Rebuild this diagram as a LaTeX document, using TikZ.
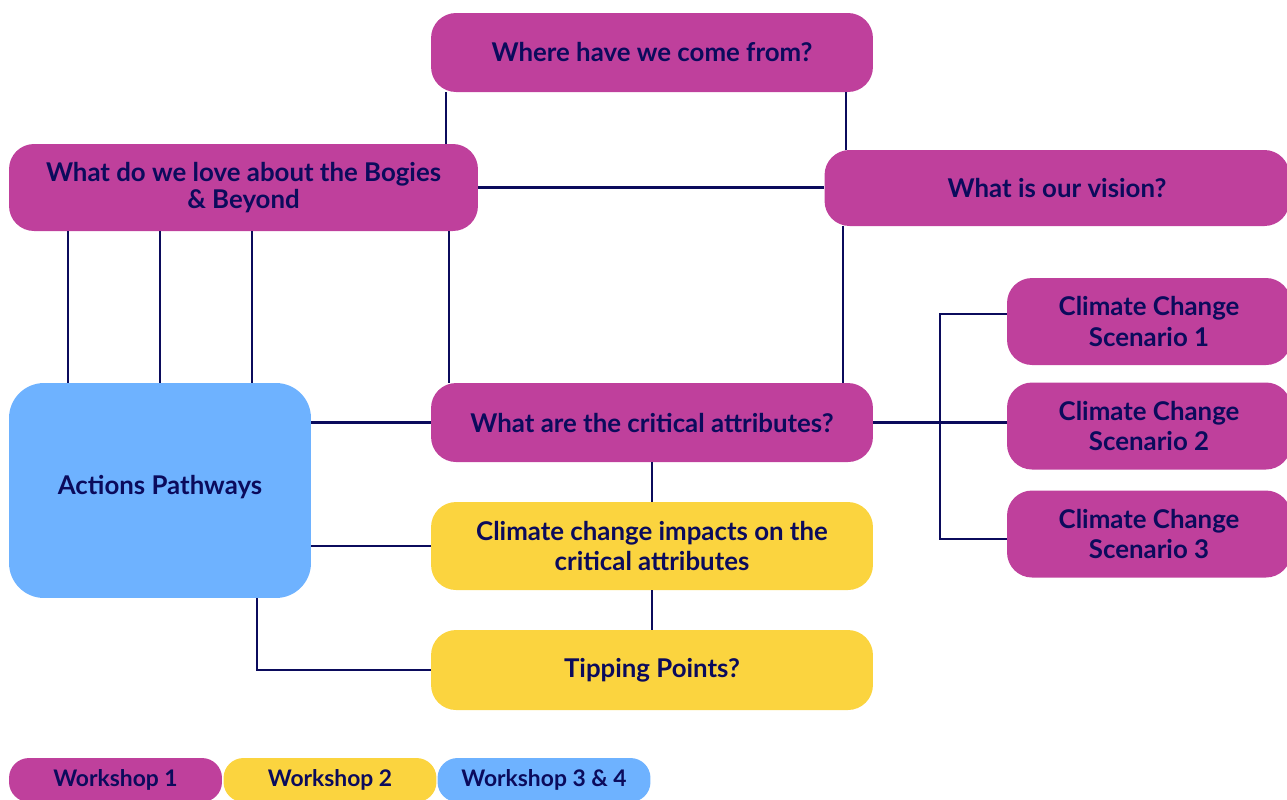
\documentclass[tikz,border=0pt]{standalone}
\usepackage{fontspec}
\setmainfont{Lato}
\usetikzlibrary{positioning}
\definecolor{wsone}{HTML}{BF409C}
\definecolor{wstwo}{HTML}{FBD43F}
\definecolor{wsthree}{HTML}{6EB2FF}
\definecolor{navy}{HTML}{0B0B5C}

\begin{document}
\begin{tikzpicture}[
        x=0.02cm, y=-0.02cm,
        box/.style={rounded corners=0.5cm, text=navy, align=center, inner sep=0pt,
                    font=\bfseries\fontsize{14.7}{17.5}\selectfont},
        wide/.style={box, minimum width=8.84cm},
        scenario/.style={box, fill=wsone, minimum width=5.68cm, minimum height=1.74cm},
        legend/.style={box, rounded corners=0.4cm, minimum width=4.26cm, minimum height=0.88cm,
                       font=\bfseries\fontsize{13}{15}\selectfont},
        link/.style={draw=navy, line width=1.4pt}
    ]
        \useasboundingbox (0,0) rectangle (1287,799);

        % Workshop 1 questions
        \node[wide, fill=wsone, minimum height=1.58cm] (where) at (652,52.5) {Where have we come from?};
        \node[box, fill=wsone, minimum width=9.38cm, minimum height=1.74cm] (love) at (243.5,187.5)
            {What do we love about the Bogies\\[-2pt] \& Beyond};
        \node[box, fill=wsone, minimum width=9.3cm, minimum height=1.52cm] (vision) at (1057,188) {What is our vision?};
        \node[wide, fill=wsone, minimum height=1.58cm] (critical) at (652,422.5) {What are the critical attributes?};

        % Scenarios
        \node[scenario] (scen1) at (1149,321.5) {Climate Change\\ Scenario 1};
        \node[scenario] (scen2) at (1149,426) {Climate Change\\ Scenario 2};
        \node[scenario] (scen3) at (1149,534) {Climate Change\\ Scenario 3};

        % Workshop 2 questions
        \node[wide, fill=wstwo, minimum height=1.76cm] (impacts) at (652,546)
            {Climate change impacts on the\\ critical attributes};
        \node[wide, fill=wstwo, minimum height=1.6cm] (tipping) at (652,670) {Tipping Points?};

        % Workshop 3 & 4
        \node[box, fill=wsthree, rounded corners=0.7cm, minimum width=6.04cm, minimum height=4.3cm] (actions)
            at (160,490.5) {\raisebox{0.24cm}{Actions Pathways}};

        % Links
        \draw[link] (where.south -| 446,0) -- (love.north -| 446,0);
        \draw[link] (where.south -| 846,0) -- (vision.north -| 846,0);
        \draw[link] (love.east) -- (love.east -| vision.west);
        \draw[link] (love.south -| 449,0) -- (critical.north -| 449,0);
        \draw[link] (vision.south -| 843,0) -- (critical.north -| 843,0);
        \foreach \x in {68,160,252}
            \draw[link] (love.south -| \x,0) -- (actions.north -| \x,0);
        \draw[link] (actions.east |- critical) -- (critical.west);
        \draw[link] (actions.east |- impacts) -- (impacts.west);
        \draw[link] (actions.south -| 257,0) |- (tipping.west);
        \draw[link] (critical.south) -- (impacts.north);
        \draw[link] (impacts.south) -- (tipping.north);

        \coordinate (split) at (940,422);
        \draw[link] (critical.east) -- (critical.east -| scen2.west);
        \draw[link] (scen1.west |- 0,314) -| (split) |- (scen3.west |- 0,539);

        % Legend
        \node[legend, fill=wsone] (ws1) at (115.5,780) {Workshop 1};
        \node[legend, fill=wstwo] (ws2) at (330,780) {Workshop 2};
        \node[legend, fill=wsthree] (ws3) at (544,780) {Workshop 3 \& 4};

    \end{tikzpicture}
\end{document}
